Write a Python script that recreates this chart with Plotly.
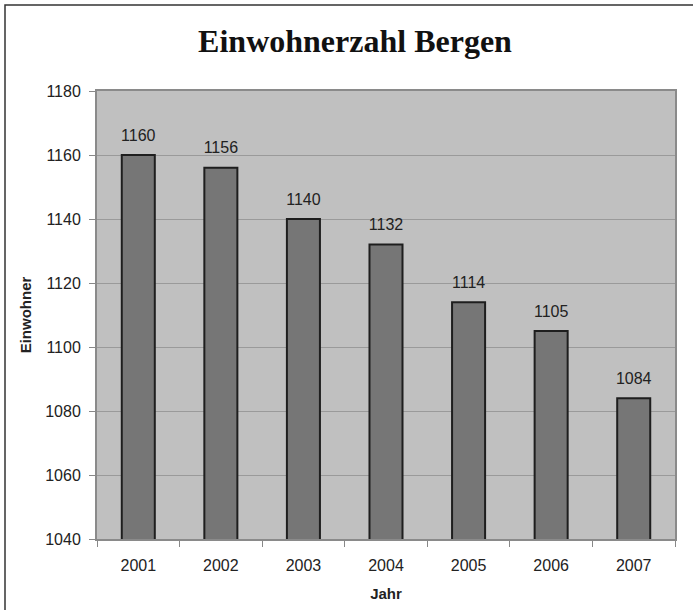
import plotly.graph_objects as go

years = ["2001", "2002", "2003", "2004", "2005", "2006", "2007"]
einwohner = [1160, 1156, 1140, 1132, 1114, 1105, 1084]
y_ticks = [1040, 1060, 1080, 1100, 1120, 1140, 1160, 1180]

W, H = 693, 610
ml, mr, mt, mb = 97, 18, 91, 71
FONT = "Liberation Sans, Arial, Helvetica"

fig = go.Figure()
fig.add_trace(go.Bar(
    x=years, y=einwohner,
    marker=dict(color="#767676", line=dict(color="#1e1e1e", width=2)),
    width=0.40,
))
# value labels above the bars
fig.add_trace(go.Scatter(
    x=years, y=einwohner, mode="markers+text",
    marker=dict(size=15, color="rgba(0,0,0,0)"),
    text=[str(v) for v in einwohner], textposition="top center",
    textfont=dict(family=FONT, size=16, color="#222222"),
    hoverinfo="skip", cliponaxis=False,
))

fig.update_layout(
    width=W, height=H,
    margin=dict(l=ml, r=mr, t=mt, b=mb, autoexpand=False),
    paper_bgcolor="white",
    plot_bgcolor="#c0c0c0",
    showlegend=False,
    title=dict(text="<b>Einwohnerzahl Bergen</b>", x=355 / W, xanchor="center",
               xref="container",
               y=1 - 41 / H, yanchor="middle",
               font=dict(family="Liberation Serif, Times New Roman", size=32, color="#111111")),
    xaxis=dict(
        type="category", categoryorder="array", categoryarray=years,
        tickson="boundaries", ticks="outside", ticklen=6,
        tickcolor="#888888", showline=True, linecolor="#8a8a8a", linewidth=2,
        mirror=True, showgrid=False, automargin=False,
        ticklabelstandoff=11,
        tickfont=dict(family=FONT, size=16, color="#222222"),
        title=dict(text="<b>Jahr</b>", standoff=15,
                   font=dict(family=FONT, size=15, color="#222222")),
    ),
    yaxis=dict(
        range=[1040, 1180], tickvals=y_ticks, ticks="outside", ticklen=6,
        tickcolor="#888888", showline=True, linecolor="#8a8a8a", linewidth=2,
        mirror=True, showgrid=True, gridcolor="#9a9a9a", gridwidth=1,
        zeroline=False, automargin=False,
        ticklabelstandoff=5,
        tickfont=dict(family=FONT, size=16, color="#222222"),
        title=dict(text="<b>Einwohner</b>", standoff=10,
                   font=dict(family=FONT, size=15, color="#222222")),
    ),
)

# outer frame (top and left edges visible in the picture)
pw, ph = W - ml - mr, H - mt - mb
fig.add_shape(type="rect", xref="paper", yref="paper",
              x0=-(ml - 5) / pw, x1=1 + (mr + 20) / pw,
              y0=-(mb + 20) / ph, y1=1 + (mt - 5) / ph,
              line=dict(color="#333333", width=1.5), layer="below")

fig.write_html("out.html", config={"displayModeBar": False},
               post_script="document.body.style.margin='0';")
